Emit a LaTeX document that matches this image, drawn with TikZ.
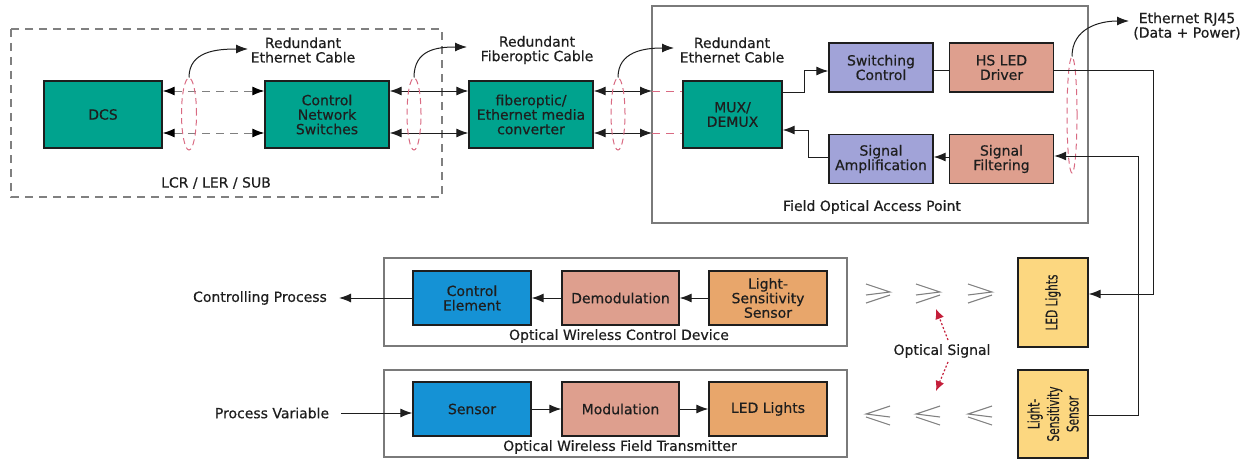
\documentclass[tikz,border=0pt]{standalone}
\usepackage{fontspec}
\setmainfont{DejaVu Sans}[FakeBold=0.5]
\usetikzlibrary{arrows.meta,shapes.geometric,calc}
\definecolor{cTeal}{HTML}{00A38E}
\definecolor{cLav}{HTML}{A1A3D8}
\definecolor{cSalm}{HTML}{DE9F8E}
\definecolor{cBlue}{HTML}{1592D5}
\definecolor{cOrng}{HTML}{E8A66B}
\definecolor{cYell}{HTML}{FCD780}
\definecolor{cPink}{HTML}{D96A82}
\definecolor{cRed}{HTML}{C41E3A}
\definecolor{cInk}{HTML}{1E1E1E}
\definecolor{cFrame}{HTML}{7A7A7A}
\begin{document}
\begin{tikzpicture}[x=1pt,y=-1pt,
  every node/.style={text=cInk, font=\fontsize{14}{14.5}\selectfont},
  blk/.style={draw=cInk, line width=1.3pt, inner sep=1pt, align=center},
  teal/.style={blk, fill=cTeal, minimum height=67pt},
  lav/.style={blk, fill=cLav, minimum width=104pt, minimum height=49pt},
  salm/.style={blk, fill=cSalm, minimum width=104pt, minimum height=49pt},
  dev/.style={blk, minimum width=118pt, minimum height=54pt},
  yel/.style={blk, fill=cYell, minimum width=70pt, minimum height=88pt},
  vtext/.style={rotate=90, xscale=0.66, align=center, inner sep=0pt,
    font=\fontsize{16}{19.5}\selectfont},
  frame/.style={draw=cFrame, line width=1.1pt},
  lbl/.style={align=center, inner sep=0pt},
  arr/.style={draw=cInk, line width=1pt, -{Latex[length=12pt,width=9pt]}},
  dbl/.style={draw=cInk, line width=1pt, {Latex[length=12pt,width=9pt]}-{Latex[length=12pt,width=9pt]}},
  gdbl/.style={draw=gray, line width=1pt, dash pattern=on 8pt off 6pt,
    {Latex[length=12pt,width=9pt,black]}-{Latex[length=12pt,width=9pt,black]}},
  pinkline/.style={draw=cPink, line width=1pt, dash pattern=on 8pt off 6pt},
  loop/.style={ellipse, draw=cPink, line width=1pt, dash pattern=on 6pt off 4pt, inner sep=0pt},
  curv/.style={draw=cInk, line width=1pt, -{Latex[length=12pt,width=9pt]}},
  sig/.style={draw=cRed, line width=1.2pt, dash pattern=on 2pt off 2pt,
    -{Latex[length=10pt,width=9pt]}},
  pics/gtsign/.style={code={
    \draw[draw=gray, line width=1.1pt] (-12,-8) -- (12,0) -- (-12,3);
    \draw[draw=gray, line width=1.1pt] (12,3) -- (-12,11);}},
  pics/ltsign/.style={code={
    \draw[draw=gray, line width=1.1pt] (12,-8) -- (-12,0) -- (12,3);
    \draw[draw=gray, line width=1.1pt] (-12,3) -- (12,11);}}
]
\useasboundingbox (0,0) rectangle (1247,460);

% ---- control room enclosure and field access point
\draw[draw=gray, line width=1.2pt, dash pattern=on 8pt off 6pt] (11,29) rectangle (442,197);
\node[lbl] (lcr) at (216,183) {LCR / LER / SUB};
\draw[frame] (652,6) rectangle (1088,223);
\node[lbl] (foap) at (872,207) {Field Optical Access Point};

% ---- backbone chain
\node[teal, minimum width=118pt] (dcs) at (103,114.5) {DCS};
\node[teal, minimum width=124pt] (cns) at (327,114.5) {Control\\Network\\Switches};
\node[teal, minimum width=124pt] (conv) at (531,114.5) {fiberoptic/\\Ethernet media\\converter};
\node[teal, minimum width=99pt] (mux) at (732.5,114.5) {MUX/\\DEMUX};

\node[lav] (swc) at (881,67.5) {Switching\\Control};
\node[salm] (hsd) at (1001.5,67.5) {HS LED\\Driver};
\node[lav] (amp) at (881,159) {Signal\\Amplification};
\node[salm] (filt) at (1001.5,159) {Signal\\Filtering};

% redundant links (upper and lower lane)
\draw[gdbl] ([yshift=23.5]dcs.east) -- ([yshift=23.5]cns.west);
\draw[gdbl] ([yshift=-18.5]dcs.east) -- ([yshift=-18.5]cns.west);
\draw[dbl] ([yshift=23.5]cns.east) -- ([yshift=23.5]conv.west);
\draw[dbl] ([yshift=-18.5]cns.east) -- ([yshift=-18.5]conv.west);
\coordinate (fa) at (652,91);
\coordinate (fb) at (652,133);
\draw[dbl] ([yshift=23.5]conv.east) -- (fa);
\draw[dbl] ([yshift=-18.5]conv.east) -- (fb);
\draw[pinkline] (fa) -- ([yshift=23.5]mux.west);
\draw[pinkline] (fb) -- ([yshift=-18.5]mux.west);

% cable bundles
\node[loop, minimum width=15pt, minimum height=72pt] (e1) at (189,114) {};
\node[loop, minimum width=14pt, minimum height=72pt] (e2) at (414,114) {};
\node[loop, minimum width=14pt, minimum height=72pt] (e3) at (618,114) {};
\node[loop, minimum width=10pt, minimum height=116pt] (e4) at (1072,115) {};

\node[lbl] (l1) at (303,50) {Redundant\\Ethernet Cable};
\node[lbl] (l2) at (537,50) {Redundant\\Fiberoptic Cable};
\node[lbl] (l3) at (732,50) {Redundant\\Ethernet Cable};
\node[lbl] (l4) at (1187,26) {Ethernet RJ45\\(Data + Power)};
\coordinate (t1) at (248,49);
\coordinate (t2) at (467,47);
\coordinate (t3) at (674,48);
\coordinate (t4) at (1129,21);
\draw[curv] (e1.north) .. controls +(0,-26) and +(-32,0) .. (t1);
\draw[curv] (e2.north) .. controls +(0,-28) and +(-30,0) .. (t2);
\draw[curv] (e3.north) .. controls +(0,-26) and +(-30,0) .. (t3);
\draw[curv] (e4.north) .. controls +(0,-28) and +(-30,0) .. (t4);

% ---- access point internals
\coordinate (m1) at (804,92);
\draw[arr] ([yshift=22.5]mux.east) -- (m1) |- ([yshift=-3.5]swc.west);
\draw[draw=cInk, line width=1pt] ([yshift=-3.5]swc.east) -- ([yshift=-3.5]hsd.west);
\draw[arr] ([yshift=2]filt.west) -- ([yshift=2]amp.east);
\coordinate (m2) at (808,157);
\draw[arr] ([yshift=2]amp.west) -- (m2) |- ([yshift=-15.5]mux.east);

% ---- light units at the field side
\node[yel, minimum height=89pt] (ledB) at (1053,302.5) {};
\node[vtext] at (ledB.center) {LED Lights};
\node[yel] (lssB) at (1053,414) {};
\node[vtext] at (lssB.center) {Light-\\Sensitivity\\Sensor};

\coordinate (r1) at (1153,71);
\coordinate (r2) at (1138,415);
\draw[arr] ([yshift=-3.5]hsd.east) -- (r1) |- ([yshift=8.5]ledB.east);
\draw[arr] ([yshift=-1]lssB.east) -- (r2) |- ([yshift=3]filt.east);

% ---- optical wireless control device
\draw[frame] (384,258) rectangle (847,346);
\node[lbl] (ocd) at (619,336) {Optical Wireless Control Device};
\node[dev, fill=cBlue] (ctrl) at (472,298) {Control\\Element};
\node[dev, fill=cSalm, minimum width=117pt] (demod) at (620.5,298) {Demodulation};
\node[dev, fill=cOrng] (lssA) at (768,298) {Light-\\Sensitivity\\Sensor};
\node[lbl] (cp) at (260,298) {Controlling Process};
\draw[arr] (lssA.west) -- (demod.east);
\draw[arr] (demod.west) -- (ctrl.east);
\draw[arr] (ctrl.west) -- ([xshift=12]cp.east);

% ---- optical wireless field transmitter
\draw[frame] (384,370) rectangle (847,457);
\node[lbl] (oft) at (620,447) {Optical Wireless Field Transmitter};
\node[dev, fill=cBlue] (sens) at (472,409) {Sensor};
\node[dev, fill=cSalm, minimum width=117pt] (modu) at (620.5,409) {Modulation};
\node[dev, fill=cOrng] (ledA) at (768,409) {LED Lights};
\node[lbl] (pv) at (272,413) {Process Variable};
\draw[arr] ([xshift=12]pv.east) -- ([yshift=-4]sens.west);
\draw[arr] (sens.east) -- (modu.west);
\draw[arr] (modu.east) -- (ledA.west);

% ---- optical path between units
\pic at (878,292) {gtsign};
\pic at (928,292) {gtsign};
\pic at (980,292) {gtsign};
\pic at (878,414) {ltsign};
\pic at (928,414) {ltsign};
\pic at (980,414) {ltsign};
\node[lbl] (os) at (942,351) {Optical Signal};
\coordinate (s1) at (936,309);
\coordinate (s2) at (936,391);
\draw[sig] ([xshift=6,yshift=4]os.north) -- (s1);
\draw[sig] ([xshift=6,yshift=-4]os.south) -- (s2);
\end{tikzpicture}
\end{document}
